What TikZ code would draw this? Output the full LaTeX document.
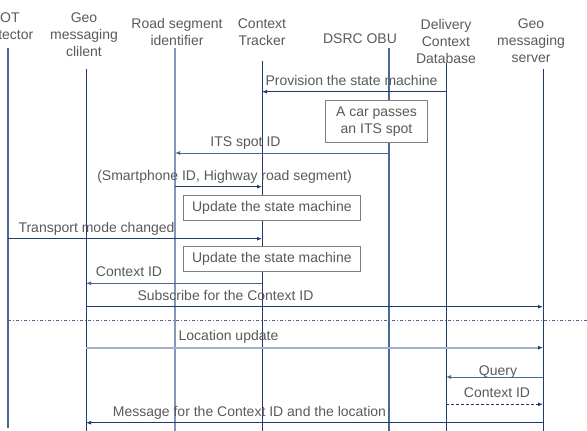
\documentclass[tikz,border=0pt]{standalone}
\usepackage{fontspec}
\setmainfont{Liberation Sans}
\usetikzlibrary{arrows.meta}
\definecolor{navy}{HTML}{1F3A6B}
\definecolor{midblue}{HTML}{4A6896}
\definecolor{lightblue}{HTML}{8497B8}
\definecolor{paleblue}{HTML}{A3B2CA}
\definecolor{txt}{HTML}{595959}
\definecolor{boxgray}{HTML}{7F7F7F}
\begin{document}
\begin{tikzpicture}[x=1pt,y=-1pt,
  every node/.style={text=txt, font=\fontsize{14}{17}\selectfont},
  hdr/.style={align=center, inner sep=0pt, anchor=north},
  life/.style={draw=navy, line width=1pt},
  msg/.style={draw=navy, line width=1pt, -{Latex[length=5pt,width=4pt]}},
  lbl/.style={anchor=base, inner sep=0pt},
  act/.style={draw=boxgray, fill=white, line width=0.8pt, align=center, inner sep=0pt}]
\useasboundingbox (0,0) rectangle (587,431);

% headers
\node[hdr] (hIot) at (8,12.4) {IOT\\detector};
\node[hdr] (hCli) at (84,12.4) {Geo\\messaging\\clilent};
\node[hdr] (hRoad) at (177,18) {Road segment\\identifier};
\node[hdr] (hCtx) at (262,19) {Context\\Tracker};
\node[hdr] (hObu) at (360,34) {DSRC OBU};
\node[hdr] (hDb) at (446,19) {Delivery\\Context\\Database};
\node[hdr] (hSrv) at (531,18.5) {Geo\\messaging\\server};

% lifeline ends
\coordinate (lIot) at (8,48);   \coordinate (lIotB) at (8,428);
\coordinate (lCli) at (86,69);  \coordinate (lCliB) at (86,431);
\coordinate (lRoad) at (175,48);\coordinate (lRoadB) at (175,431);
\coordinate (lCtx) at (262,61); \coordinate (lCtxB) at (262,431);
\coordinate (lObu) at (389,48); \coordinate (lObuB) at (389,431);
\coordinate (lDb) at (446,63);  \coordinate (lDbB) at (446,431);
\coordinate (lSrv) at (543,69); \coordinate (lSrvB) at (543,431);

\draw[life, draw=midblue, line width=1.8pt] (lIot) -- (lIotB);
\draw[life] (lCli) -- (lCliB);
\draw[life, draw=lightblue, line width=2pt] (lRoad) -- (lRoadB);
\draw[life] (lCtx) -- (lCtxB);
\draw[life, draw=midblue, line width=1.2pt] (lObu) -- (lObuB);
\draw[life] (lDb) -- (lDbB);
\draw[life] (lSrv) -- (lSrvB);

% separator
\coordinate (sepL) at (8,320); \coordinate (sepR) at (587,320);
\draw[draw=midblue, line width=1pt, dash pattern=on 3pt off 2pt on 1pt off 2pt] (sepL) -- (sepR);

% messages
\draw[msg] (lDb |- 0,91.7) -- (lCtx |- 0,91.7);
\node[lbl] (m1) at (351.5,85.3) {Provision the state machine};

\node[act, minimum width=101.6pt, minimum height=41.3pt] (b1) at (376.5,121.3) {A car passes\\an ITS spot};

\draw[msg, draw=midblue] (lObu |- 0,153) -- (lRoad |- 0,153);
\node[lbl] (m2) at (245.5,146.7) {ITS spot ID};

\draw[msg] (lRoad |- 0,186.7) -- (lCtx |- 0,186.7);
\node[lbl] (m3) at (224.5,180) {(Smartphone ID, Highway road segment)};

\node[act, minimum width=177.7pt, minimum height=25.3pt] (b2) at (271.9,207.7) {Update the state machine};

\draw[msg] (lIot |- 0,238.7) -- (lCtx |- 0,238.7);
\node[lbl] (m4) at (96.5,232.3) {Transport mode changed};

\node[act, minimum width=177.7pt, minimum height=25.3pt] (b3) at (271.9,259.2) {Update the state machine};

\draw[msg, draw=midblue] (lCtx |- 0,283.3) -- (lCli |- 0,283.3);
\node[lbl] (m5) at (129,276.7) {Context ID};

\draw[msg] (lCli |- 0,306.7) -- (lSrv |- 0,306.7);
\node[lbl] (m6) at (225.5,300.7) {Subscribe for the Context ID};

\draw[msg, draw=paleblue, line width=2pt, -{Latex[length=5pt,width=4pt,color=navy]}] (lCli |- 0,347.7) -- (lSrv |- 0,347.7);
\node[lbl] (m7) at (228.5,340.7) {Location update};

\node[lbl] (m8) at (498,375) {Query};
\draw[msg, draw=midblue] (lSrv |- 0,377) -- (lDb |- 0,377);

\draw[msg, dash pattern=on 3pt off 2pt] (lDb |- 0,404.3) -- (lSrv |- 0,404.3);
\node[lbl] (m9) at (497,397.7) {Context ID};

\draw[msg] (lSrv |- 0,422.7) -- (lCli |- 0,422.7);
\node[lbl] (m10) at (249.5,416) {Message for the Context ID and the location};
\end{tikzpicture}
\end{document}
